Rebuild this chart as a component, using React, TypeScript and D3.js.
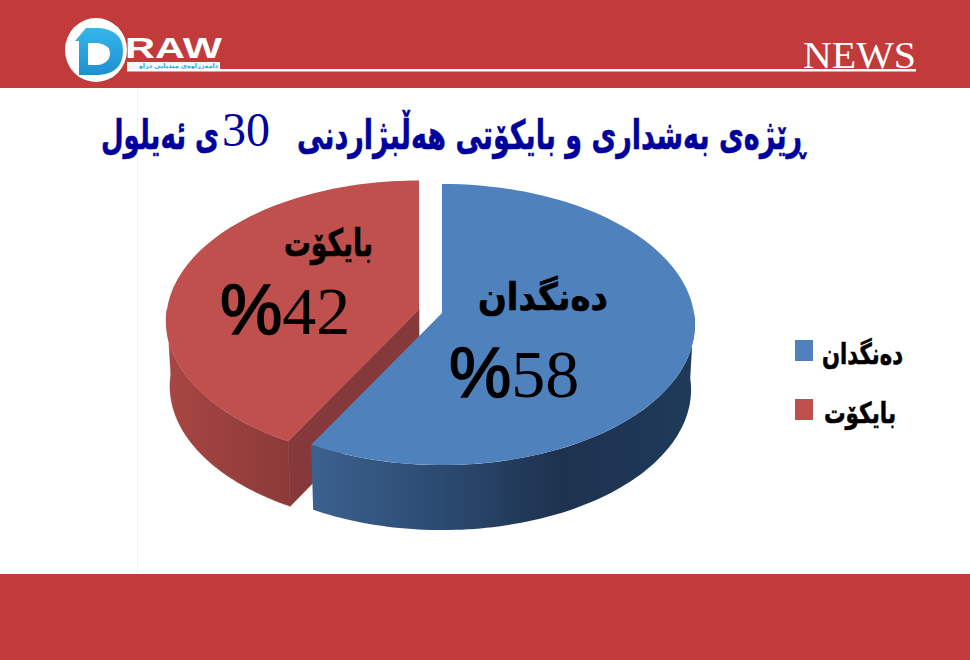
import React from "react";
import * as d3 from "d3";

const categories = ["دەنگدان", "بایکۆت"];
const values = [58, 42];
const percentLabels = ["58", "42"];
const titleBefore = "ڕێژەی بەشداری و بایکۆتی هەڵبژاردنی";
const titleNumber = "30";
const titleAfter = "ی ئەیلول";

const BAND = "#c23b3b";
const topColors = ["#4f81bd", "#c0504d"];
const ARABIC = "'DejaVu Sans', 'Noto Sans', sans-serif";
const SERIF = "'Liberation Serif', serif";
const SANS = "'Liberation Sans', sans-serif";

const K = 0.082, R = 252, RY = 139.6, DEPTH = 65;

function project(theta: number, r: number, cx: number, cy: number, shrink = 1, drop = 0): [number, number] {
  const u = Math.sin(theta) * r;
  const v = -Math.cos(theta) * r;
  const d = 1 - K * v;
  return [cx + (R * shrink * u) / d, cy + drop + (RY * v) / d];
}

function arcPts(a0: number, a1: number, cx: number, cy: number, shrink = 1, drop = 0) {
  const n = 90;
  return d3.range(n + 1).map((i) => project(a0 + ((a1 - a0) * i) / n, 1, cx, cy, shrink, drop));
}

const line = d3.line();

function Stretched({ x, y, sx, sy, size, fill, stroke = 0.5, children }: any) {
  return (
    <text
      transform={`translate(${x},${y}) scale(${sx},${sy})`}
      textAnchor="start"
      direction="rtl"
      fontFamily={ARABIC}
      fontWeight={700}
      fontSize={size}
      fill={fill}
      stroke={fill}
      strokeWidth={stroke}
    >
      {children}
    </text>
  );
}

function Percent({ x, y, value }: { x: number; y: number; value: string }) {
  return (
    <text x={x} y={y} fontFamily={SERIF} fontSize={68} fill="#000" direction="ltr">
      <tspan fontFamily={SANS} fontSize={70} stroke="#000" strokeWidth={1.6}>%</tspan>
      {value}
    </text>
  );
}

export default function App() {
  const pie = d3.pie<number>().sort(null)(values);
  const blue = pie[0];
  const red = pie[1];
  const bc: [number, number] = [442, 313];
  const rc: [number, number] = [419, 309.5];

  const blueTop = line([bc, ...arcPts(blue.startAngle, blue.endAngle, bc[0], bc[1])] as any)! + "Z";
  const redTop = line([rc, ...arcPts(red.startAngle, red.endAngle, rc[0], rc[1])] as any)! + "Z";

  const sideOf = (a0: number, a1: number, c: [number, number]) =>
    line([
      ...arcPts(a0, a1, c[0], c[1]),
      ...arcPts(a0, a1, c[0], c[1], 0.985, DEPTH).reverse(),
    ] as any)! + "Z";

  const blueSide = sideOf(Math.PI / 2, blue.endAngle, bc);
  const redSide = sideOf(red.startAngle, (3 * Math.PI) / 2, rc);
  const redCorner = project(red.startAngle, 1, rc[0], rc[1]);
  const redCut =
    line([
      rc,
      redCorner,
      [redCorner[0] + 2, redCorner[1] + DEPTH],
      [rc[0], rc[1] + DEPTH],
    ] as any)! + "Z";

  const legendY = [340, 399];
  const legendRight = [903, 896];
  const legendSx = [0.88, 0.9];

  return (
    <svg width={970} height={660} viewBox="0 0 970 660" style={{ position: "absolute", left: 0, top: 0, background: "#fff" }}>
      <defs>
        <linearGradient id="blueSide" gradientUnits="userSpaceOnUse" x1={307} x2={695} y1={0} y2={0}>
          <stop offset="0" stopColor="#3c6290" />
          <stop offset="0.35" stopColor="#2b4a70" />
          <stop offset="0.65" stopColor="#1d324f" />
          <stop offset="1" stopColor="#1f3a5a" />
        </linearGradient>
        <linearGradient id="redSide" gradientUnits="userSpaceOnUse" x1={165} x2={290} y1={0} y2={0}>
          <stop offset="0" stopColor="#a84643" />
          <stop offset="1" stopColor="#8b3a38" />
        </linearGradient>
        <linearGradient id="logoD" x1="0" x2="0" y1="0" y2="1">
          <stop offset="0" stopColor="#35b6ea" />
          <stop offset="1" stopColor="#1f8fd0" />
        </linearGradient>
      </defs>

      <rect x={0} y={0} width={970} height={88} fill={BAND} />
      <rect x={0} y={574} width={970} height={86} fill={BAND} />
      <rect x={137} y={88} width={1} height={486} fill="#f8f3f3" />

      {/* masthead */}
      <ellipse cx={96} cy={50} rx={31} ry={32} fill="#fff" />
      <path
        fillRule="evenodd"
        fill="url(#logoD)"
        d="M75 41 L86 28 H99 Q123 30 123 51 Q123 73 99 75 H79 V41 Z M88 43 V65 H98 Q110 63 110 53 Q110 45 98 43 Z"
      />
      <text x={125} y={58} fontFamily={SANS} fontWeight={700} fontSize={30} fill="#fff" textLength={97} lengthAdjust="spacingAndGlyphs">RAW</text>
      <rect x={127} y={62} width={93} height={7} fill="#f3f7fa" />
      <text x={218} y={68} textAnchor="start" direction="rtl" fontFamily={ARABIC} fontSize={6.5} fontWeight={700} fill="#29a9e0">دامەزراوەی میدیایی دراو</text>
      <rect x={127} y={69} width={789} height={2.5} fill="#fff" />
      <text x={916} y={68} textAnchor="end" fontFamily={SERIF} fontSize={38} fill="#fff" textLength={113} lengthAdjust="spacingAndGlyphs">NEWS</text>

      {/* title */}
      <Stretched x={805} y={149} sx={0.75} sy={1.12} size={36} fill="#00009c">{titleBefore}</Stretched>
      <text x={246} y={146} textAnchor="middle" fontFamily={SERIF} fontSize={48} fill="#00009c">{titleNumber}</text>
      <Stretched x={219} y={149} sx={0.725} sy={1.12} size={36} fill="#00009c">{titleAfter}</Stretched>

      {/* pie */}
      <path d={redSide} fill="url(#redSide)" stroke="#8b3a38" strokeWidth={0.4} />
      <path d={redCut} fill="#86393a" stroke="#86393a" strokeWidth={0.6} />
      <path d={redTop} fill={topColors[1]} />
      <path d={blueSide} fill="url(#blueSide)" />
      <path d={blueTop} fill={topColors[0]} />

      {/* slice labels */}
      <Stretched x={373} y={256} sx={0.92} sy={1.3} size={29} fill="#000">{categories[1]}</Stretched>
      <Percent x={220} y={334} value={percentLabels[1]} />
      <Stretched x={608} y={310} sx={1.17} sy={1.3} size={29} fill="#000">{categories[0]}</Stretched>
      <Percent x={449} y={397} value={percentLabels[0]} />

      {/* legend */}
      {categories.map((c, i) => (
        <g key={c}>
          <rect x={795} y={legendY[i]} width={18} height={21} fill={topColors[i]} />
          <Stretched x={legendRight[i]} y={legendY[i] + 24} sx={legendSx[i]} sy={1.2} size={24} fill="#000">{c}</Stretched>
        </g>
      ))}
    </svg>
  );
}
